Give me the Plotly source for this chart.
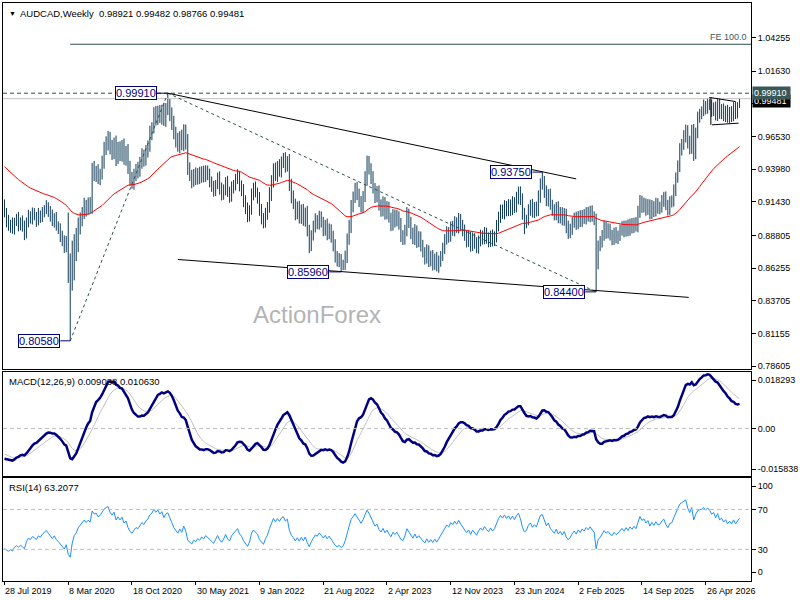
import plotly.graph_objects as go

# ---------------- data (weekly AUDCAD) ----------------
date_ticks = [0, 32, 64, 96, 128, 160, 192, 224, 256, 288, 320, 352]
date_labels = ["28 Jul 2019", "8 Mar 2020", "18 Oct 2020", "30 May 2021", "9 Jan 2022",
               "21 Aug 2022", "2 Apr 2023", "12 Nov 2023", "23 Jun 2024", "2 Feb 2025",
               "14 Sep 2025", "26 Apr 2026"]

price_ticks = [1.04255, 1.01630, 0.99080, 0.96530, 0.93980, 0.91430, 0.88805,
               0.86255, 0.83705, 0.81155, 0.78605]

first_open = 0.9120
close = [
    0.9060, 0.8990, 0.8950, 0.8975, 0.8930, 0.8985, 0.9010, 0.8960, 0.8990, 0.8945,
    0.8890, 0.8985, 0.9040, 0.9010, 0.9055, 0.9030, 0.8995, 0.9045, 0.9020, 0.9060,
    0.9080, 0.9110, 0.9070, 0.9030, 0.8990, 0.9020, 0.8960, 0.8930, 0.8880, 0.8840,
    0.8790, 0.8830, 0.8600, 0.8500, 0.8680, 0.8800, 0.8850, 0.8950, 0.9000, 0.9050,
    0.9120, 0.9080, 0.9130, 0.9100, 0.9400, 0.9350, 0.9380, 0.9320, 0.9360, 0.9450,
    0.9550, 0.9600, 0.9640, 0.9560, 0.9520, 0.9600, 0.9480, 0.9560, 0.9510, 0.9580,
    0.9480, 0.9530, 0.9410, 0.9330, 0.9290, 0.9350, 0.9400, 0.9380, 0.9450, 0.9500,
    0.9470, 0.9540, 0.9580, 0.9680, 0.9720, 0.9830, 0.9790, 0.9850, 0.9800, 0.9860,
    0.9780, 0.9870, 0.9900, 0.9820, 0.9760, 0.9680, 0.9620, 0.9580, 0.9650, 0.9590,
    0.9700, 0.9610, 0.9400, 0.9350, 0.9300, 0.9360, 0.9320, 0.9370, 0.9330, 0.9380,
    0.9340, 0.9390, 0.9350, 0.9300, 0.9260, 0.9230, 0.9280, 0.9330, 0.9250, 0.9200,
    0.9240, 0.9300, 0.9220, 0.9180, 0.9250, 0.9280, 0.9320, 0.9350, 0.9270, 0.9230,
    0.9150, 0.9100, 0.9030, 0.9080, 0.9200, 0.9250, 0.9220, 0.9180, 0.9080, 0.9020,
    0.8980, 0.9050, 0.9100, 0.9200, 0.9300, 0.9400, 0.9350, 0.9420, 0.9380, 0.9450,
    0.9480, 0.9420, 0.9460, 0.9280, 0.9180, 0.9130, 0.9050, 0.9100, 0.9020, 0.9080,
    0.9000, 0.9060, 0.8920, 0.8800, 0.8880, 0.8950, 0.9000, 0.8970, 0.9030, 0.8980,
    0.8920, 0.8960, 0.8890, 0.8930, 0.8870, 0.8800, 0.8720, 0.8680, 0.8700, 0.8640,
    0.8660, 0.8720, 0.8850, 0.8950, 0.9100, 0.9180, 0.9250, 0.9200, 0.9150, 0.9100,
    0.9180, 0.9320, 0.9450, 0.9400, 0.9330, 0.9250, 0.9180, 0.9220, 0.9120, 0.9070,
    0.9140, 0.9050, 0.9100, 0.9020, 0.8960, 0.9040, 0.8990, 0.9030, 0.8970, 0.8880,
    0.8850, 0.8920, 0.9050, 0.8980, 0.8900, 0.8850, 0.8920, 0.8830, 0.8870, 0.8800,
    0.8750, 0.8700, 0.8760, 0.8680, 0.8720, 0.8650, 0.8700, 0.8630, 0.8680, 0.8720,
    0.8780, 0.8850, 0.8900, 0.8870, 0.8950, 0.8920, 0.8980, 0.8940, 0.9010, 0.8960,
    0.8920, 0.8880, 0.8830, 0.8870, 0.8800, 0.8860, 0.8820, 0.8780, 0.8840, 0.8880,
    0.8850, 0.8900, 0.8860, 0.8830, 0.8880, 0.8840, 0.8870, 0.8950, 0.9020, 0.9080,
    0.9050, 0.9110, 0.9070, 0.9120, 0.9080, 0.9140, 0.9100, 0.9170, 0.9220, 0.9160,
    0.9050, 0.8980, 0.9000, 0.9080, 0.9120, 0.9060, 0.9100, 0.9070, 0.9180, 0.9280,
    0.9300, 0.9220, 0.9150, 0.9200, 0.9120, 0.9080, 0.9040, 0.9100, 0.9020, 0.9060,
    0.9000, 0.9050, 0.8950, 0.8900, 0.8930, 0.8980, 0.9020, 0.8970, 0.9030, 0.8990,
    0.9040, 0.9010, 0.9060, 0.9030, 0.9070, 0.9030, 0.9000, 0.8660, 0.8800, 0.8830,
    0.8880, 0.8950, 0.8900, 0.8930, 0.8880, 0.8850, 0.8900, 0.8860, 0.8880, 0.8920,
    0.8950, 0.8910, 0.8960, 0.8920, 0.8970, 0.8940, 0.8980, 0.8950, 0.9060, 0.9150,
    0.9100, 0.9130, 0.9080, 0.9120, 0.9050, 0.9110, 0.9070, 0.9130, 0.9090, 0.9100,
    0.9150, 0.9180, 0.9120, 0.9080, 0.9140, 0.9150, 0.9230, 0.9330, 0.9420, 0.9550,
    0.9590, 0.9650, 0.9700, 0.9610, 0.9560, 0.9700, 0.9520, 0.9680, 0.9800, 0.9830,
    0.9850, 0.9900, 0.9870, 0.9930, 0.9900, 0.9850, 0.9890, 0.9820, 0.9920, 0.9830,
    0.9870, 0.9810, 0.9860, 0.9800, 0.9850, 0.9810, 0.9890, 0.9830, 0.98921, 0.99481,
]

# upper / lower wick beyond the bar body, in pips (0.0001)
hi_w = [
    42, 35, 51, 28, 46, 33, 40, 55, 31, 47,
    52, 36, 41, 29, 44, 39, 34, 50, 30, 42,
    37, 46, 29, 41, 52, 34, 43, 31, 45, 38,
    41, 47, 230, 140, 160, 90, 90, 70, 60, 52,
    55, 38, 47, 50, 47, 62, 44, 57, 41, 53,
    61, 54, 56, 49, 66, 45, 60, 51, 55, 46,
    58, 49, 64, 53, 47, 51, 39, 56, 44, 61,
    50, 46, 42, 57, 44, 52, 61, 43, 49, 41,
    56, 44, 91, 47, 60, 54, 49, 62, 45, 57,
    48, 46, 63, 51, 43, 39, 52, 36, 47, 41,
    45, 38, 36, 52, 41, 47, 33, 42, 51, 44,
    39, 36, 46, 41, 52, 34, 42, 47, 33, 40,
    51, 44, 38, 36, 47, 41, 52, 34, 39, 46,
    35, 46, 42, 57, 51, 43, 49, 41, 56, 47,
    44, 51, 39, 56, 43, 52, 38, 46, 51, 42,
    47, 38, 52, 44, 41, 46, 53, 39, 44, 38,
    46, 41, 52, 44, 38, 47, 51, 39, 43, 36,
    31, 42, 46, 52, 57, 43, 41, 49, 46, 38,
    47, 62, 54, 51, 44, 52, 39, 46, 51, 42,
    46, 41, 49, 44, 38, 46, 42, 51, 39, 47,
    41, 44, 52, 39, 46, 42, 49, 38, 44, 41,
    46, 39, 51, 44, 41, 47, 38, 52, 44, 39,
    44, 41, 52, 46, 39, 44, 51, 42, 46, 38,
    42, 46, 39, 51, 41, 44, 38, 47, 41, 46,
    39, 46, 41, 44, 38, 47, 42, 52, 46, 41,
    42, 46, 39, 44, 41, 47, 39, 51, 42, 44,
    49, 46, 42, 44, 39, 47, 41, 45, 52, 46,
    75, 44, 51, 42, 46, 39, 44, 41, 47, 42,
    41, 44, 39, 46, 42, 44, 38, 45, 41, 47,
    39, 46, 41, 44, 42, 46, 38, 50, 41, 46,
    43, 47, 39, 46, 42, 44, 41, 46, 39, 45,
    42, 46, 38, 45, 41, 47, 39, 44, 52, 46,
    41, 46, 39, 44, 42, 47, 38, 45, 41, 44,
    46, 41, 44, 39, 47, 43, 49, 42, 46, 51,
    44, 52, 46, 41, 49, 44, 51, 42, 47, 39,
    38, 42, 30, 22, 31, 41, 29, 36, 27, 34,
    36, 41, 33, 40, 34, 39, 31, 38, 29, 0,
]
lo_w = [
    38, 45, 33, 49, 36, 42, 31, 47, 40, 35,
    46, 33, 41, 37, 44, 31, 48, 36, 42, 34,
    39, 33, 45, 41, 36, 48, 42, 38, 51, 44,
    47, 41, 90, 442, 50, 150, 120, 100, 62, 48,
    41, 53, 38, 46, 50, 44, 52, 39, 47, 43,
    49, 42, 56, 47, 51, 44, 58, 42, 49, 53,
    47, 55, 49, 61, 44, 52, 46, 54, 41, 49,
    53, 44, 51, 46, 56, 43, 52, 47, 41, 55,
    44, 51, 50, 47, 56, 49, 53, 46, 58, 44,
    52, 59, 47, 44, 51, 39, 46, 42, 49, 38,
    46, 41, 37, 44, 39, 47, 42, 38, 51, 46,
    41, 47, 39, 44, 36, 42, 48, 39, 45, 43,
    49, 53, 46, 41, 38, 45, 42, 51, 47, 53,
    44, 39, 47, 42, 51, 46, 44, 52, 41, 47,
    43, 49, 41, 52, 48, 44, 51, 42, 46, 49,
    44, 51, 47, 58, 42, 39, 46, 41, 44, 38,
    45, 41, 47, 39, 46, 44, 51, 42, 47, 44,
    30, 48, 55, 42, 51, 39, 46, 44, 48, 41,
    46, 39, 51, 44, 49, 42, 47, 41, 46, 43,
    41, 47, 44, 39, 46, 42, 48, 39, 44, 51,
    44, 41, 46, 42, 49, 38, 44, 47, 41, 45,
    42, 47, 39, 46, 41, 44, 38, 30, 41, 44,
    39, 44, 41, 46, 38, 42, 47, 39, 44, 41,
    46, 41, 44, 39, 47, 42, 44, 38, 41, 45,
    41, 38, 44, 42, 39, 46, 41, 44, 38, 42,
    39, 44, 41, 38, 46, 41, 44, 39, 47, 42,
    46, 90, 44, 41, 46, 39, 44, 42, 38, 44,
    42, 46, 41, 44, 39, 46, 42, 41, 44, 46,
    41, 44, 52, 46, 41, 44, 39, 46, 41, 44,
    42, 39, 44, 41, 46, 42, 39, 220, 44, 42,
    44, 41, 46, 42, 39, 46, 44, 41, 47, 42,
    41, 44, 39, 46, 42, 44, 41, 39, 45, 42,
    44, 41, 46, 39, 44, 41, 46, 42, 39, 44,
    41, 46, 42, 44, 39, 41, 44, 42, 38, 44,
    46, 41, 44, 51, 46, 42, 58, 44, 41, 39,
    42, 38, 45, 39, 41, 44, 38, 42, 46, 39,
    42, 38, 44, 39, 41, 44, 38, 41, 36, 16,
]

# indicator state carried in from the weeks before the visible window
ma_seed = 0.943
ema12_seed, ema26_seed, signal_seed = 0.912, 0.923, -0.0085
rsi_gain_seed, rsi_loss_seed = 0.0030, 0.0063

# annotated swing points (bar index, price)
swing_labels = [(33, 0.80580), (82, 0.99910), (169, 0.85960), (270, 0.93750), (297, 0.84400)]
fe_level = 1.0373
bid = 0.99481

# ---------------- derived series ----------------
n = len(close)
idx = list(range(n))
opens = [first_open] + close[:-1]
high = [max(o, c) + w / 10000 for o, c, w in zip(opens, close, hi_w)]
low = [min(o, c) - w / 10000 for o, c, w in zip(opens, close, lo_w)]


def ema(vals, period, seed):
    a = 2.0 / (period + 1)
    e, out = seed, []
    for v in vals:
        e = e + a * (v - e)
        out.append(e)
    return out


ma55 = ema(close, 55, ma_seed)
e12 = ema(close, 12, ema12_seed)
e26 = ema(close, 26, ema26_seed)
macd = [a - b for a, b in zip(e12, e26)]
signal = ema(macd, 9, signal_seed)


def rsi(vals, prev, period, g0, l0):
    ag, al, p, out = g0, l0, prev, []
    for v in vals:
        ch = v - p
        ag = (ag * (period - 1) + max(ch, 0)) / period
        al = (al * (period - 1) + max(-ch, 0)) / period
        out.append(100 - 100 / (1 + ag / al) if al > 0 else 100)
        p = v
    return out


rsi14 = rsi(close, first_open, 14, rsi_gain_seed, rsi_loss_seed)

# ---------------- figure ----------------
FONT = "Liberation Sans, Arial, sans-serif"
BAR = "#0F3A58"
SLATE = "#2F4F4F"
NAVY = "#000080"

fig = go.Figure()
fig.add_trace(go.Ohlc(x=idx, open=opens, high=high, low=low, close=close,
                      increasing=dict(line=dict(color=BAR, width=1)),
                      decreasing=dict(line=dict(color=BAR, width=1)),
                      tickwidth=0, xaxis="x", yaxis="y", hoverinfo="skip"))
fig.add_trace(go.Scatter(x=idx, y=ma55, mode="lines", line=dict(color="#FF0000", width=1),
                         xaxis="x", yaxis="y", hoverinfo="skip"))
fig.add_trace(go.Scatter(x=idx, y=signal, mode="lines", line=dict(color="#C0C0C0", width=1),
                         xaxis="x2", yaxis="y2", hoverinfo="skip"))
fig.add_trace(go.Scatter(x=idx, y=macd, mode="lines", line=dict(color=NAVY, width=2.5),
                         xaxis="x2", yaxis="y2", hoverinfo="skip"))
fig.add_trace(go.Scatter(x=idx, y=rsi14, mode="lines", line=dict(color="#1E90FF", width=1),
                         xaxis="x3", yaxis="y3", hoverinfo="skip"))

# 751 px plot width / 375.5 units = 2 px per weekly bar, bars centred on pixel centres
xr = [-0.75, 374.75]
xcommon = dict(range=xr, showgrid=False, zeroline=False, showline=True, mirror=True,
               linecolor="black", linewidth=1, showticklabels=False, fixedrange=True)
ycommon = dict(side="right", showgrid=False, zeroline=False, showline=True, mirror=True,
               linecolor="black", linewidth=1, ticks="outside", ticklen=4, tickcolor="black",
               tickfont=dict(family=FONT, size=9, color="black"), fixedrange=True)

fig.update_layout(
    width=800, height=600, showlegend=False, hovermode=False,
    paper_bgcolor="white", plot_bgcolor="white",
    margin=dict(l=3, r=46, t=2, b=19, pad=0),
    xaxis=dict(**xcommon, anchor="y", rangeslider=dict(visible=False)),
    xaxis2=dict(**xcommon, anchor="y2", matches="x"),
    xaxis3=dict(**xcommon, anchor="y3", matches="x", ticks="outside", ticklen=3,
                tickcolor="black", tickvals=date_ticks),
    yaxis=dict(**ycommon, domain=[0.3670, 1.0], range=[0.7839, 1.0695], anchor="x",
               tickvals=price_ticks, ticktext=[f"{v:.5f}" for v in price_ticks]),
    yaxis2=dict(**ycommon, domain=[0.1813, 0.3615], range=[-0.01678, 0.0199], anchor="x2",
                tickvals=[0.01699, 0.0, -0.01432], ticktext=["0.018293", "0.00", "-0.015838"]),
    yaxis3=dict(**ycommon, domain=[0.0, 0.1774], range=[-1.7, 101], anchor="x3",
                tickvals=[93.3, 70, 30, 7.3], ticktext=["100", "70", "30", "0"]),
)

shapes = []
# indicator levels
shapes.append(dict(type="line", xref="x2 domain", yref="y2", x0=0, x1=1, y0=0, y1=0,
                   line=dict(color="#BEBEBE", width=1, dash="4px,3px")))
for lvl in (70, 30):
    shapes.append(dict(type="line", xref="x3 domain", yref="y3", x0=0, x1=1, y0=lvl, y1=lvl,
                       line=dict(color="#BEBEBE", width=1, dash="4px,3px")))
# price levels
top = swing_labels[1]
shapes.append(dict(type="line", xref="x domain", yref="y", x0=0, x1=1, y0=top[1], y1=top[1],
                   line=dict(color=SLATE, width=1, dash="4px,3px")))
shapes.append(dict(type="line", xref="x domain", yref="y", x0=0, x1=1, y0=bid, y1=bid,
                   line=dict(color="#C0C0C0", width=1)))
p1, p2, p3 = swing_labels[0], swing_labels[1], swing_labels[4]
shapes.append(dict(type="line", xref="x", yref="y", x0=p1[0], x1=xr[1], y0=fe_level, y1=fe_level,
                   line=dict(color=SLATE, width=1)))
for a, b in ((p1, p2), (p2, p3)):
    shapes.append(dict(type="line", xref="x", yref="y", x0=a[0], y0=a[1], x1=b[0], y1=b[1],
                       line=dict(color=SLATE, width=1, dash="3px,3px")))
# trend lines
for (xa, ya, xb, yb) in ((82, 0.9991, 287, 0.9322), (87, 0.8693, 343.5, 0.8397)):
    shapes.append(dict(type="line", xref="x", yref="y", x0=xa, y0=ya, x1=xb, y1=yb,
                       line=dict(color="black", width=1)))
# flag at the right edge
for (xa, ya, xb, yb) in ((354.3, 0.9957, 366.8, 0.9926), (355.2, 0.9744, 368.5, 0.9757),
                         (354.6, 0.9957, 354.6, 0.9744)):
    shapes.append(dict(type="line", xref="x", yref="y", x0=xa, y0=ya, x1=xb, y1=yb,
                       line=dict(color="black", width=1)))
# connectors for swing labels
label_right = {33: 28.0, 82: 76.5, 169: 163.0, 270: 265.0, 297: 291.5}
for bx, py in swing_labels:
    shapes.append(dict(type="line", xref="x", yref="y", x0=label_right[bx], x1=bx, y0=py, y1=py,
                       line=dict(color=NAVY, width=1)))
fig.update_layout(shapes=shapes)

ann = []
for bx, py in swing_labels:
    ann.append(dict(x=label_right[bx], y=py, xref="x", yref="y", xanchor="right", yanchor="middle",
                    text=f"{py:.5f}", showarrow=False, bgcolor="white", bordercolor=NAVY,
                    borderwidth=1, borderpad=0, font=dict(family=FONT, size=11, color=NAVY)))
ann.append(dict(x=1, y=fe_level, xref="paper", yref="y", xanchor="right", yanchor="bottom",
                xshift=-2, yshift=0, text="FE 100.0", showarrow=False,
                font=dict(family=FONT, size=9, color="#3C5A64")))
# highlighted price labels on the axis (bid box sits just under the 0.99910 box, as in MT4)
ann.append(dict(x=1, y=bid, xref="paper", yref="y", xanchor="left", yanchor="middle", xshift=1,
                yshift=-2, text="0.99481 ", showarrow=False, bgcolor="black", borderpad=1,
                font=dict(family=FONT, size=9, color="white")))
ann.append(dict(x=1, y=top[1], xref="paper", yref="y", xanchor="left", yanchor="middle", xshift=1,
                text="0.99910 ", showarrow=False, bgcolor="#3A5858", borderpad=1,
                font=dict(family=FONT, size=9, color="white")))
# panel titles
ann.append(dict(x=0, y=1, xref="paper", yref="paper", xanchor="left", yanchor="top",
                xshift=4, yshift=-5, text="▼", showarrow=False,
                font=dict(family=FONT, size=7, color="black")))
ann.append(dict(x=0, y=1, xref="paper", yref="paper", xanchor="left", yanchor="top",
                xshift=15, yshift=-3, text="AUDCAD,Weekly  0.98921 0.99482 0.98766 0.99481",
                showarrow=False, font=dict(family=FONT, size=9.5, color="black")))
ann.append(dict(x=0, y=0.3615, xref="paper", yref="paper", xanchor="left", yanchor="top",
                xshift=4, yshift=-2, text="MACD(12,26,9) 0.009088 0.010630",
                showarrow=False, font=dict(family=FONT, size=9.5, color="black")))
ann.append(dict(x=0, y=0.1774, xref="paper", yref="paper", xanchor="left", yanchor="top",
                xshift=4, yshift=-2, text="RSI(14) 63.2077",
                showarrow=False, font=dict(family=FONT, size=9.5, color="black")))
# watermark
ann.append(dict(x=0.4195, y=0.461, xref="paper", yref="paper", xanchor="center", yanchor="middle",
                text="ActionForex", showarrow=False,
                font=dict(family=FONT, size=24, color="#B4B4B4")))
# date labels
for t, lab in zip(date_ticks, date_labels):
    ann.append(dict(x=t, y=0, xref="x3", yref="paper", xanchor="left", yanchor="top",
                    xshift=-1, yshift=-3, text=lab, showarrow=False,
                    font=dict(family=FONT, size=9, color="black")))
fig.update_layout(annotations=ann)

fig.write_html("out.html", config={"displayModeBar": False},
               post_script="document.body.style.margin='0';")
